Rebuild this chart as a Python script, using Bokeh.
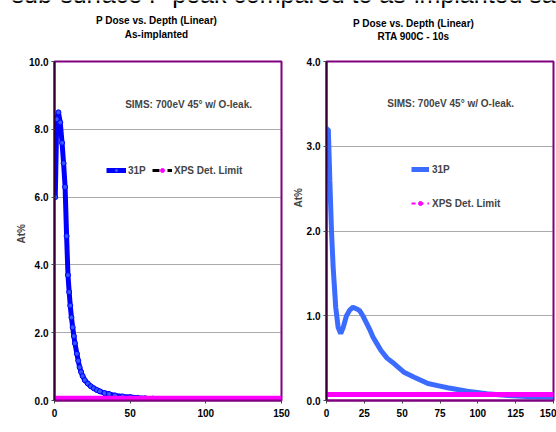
import numpy as np
from bokeh.plotting import figure
from bokeh.layouts import column, row
from bokeh.models import (Range1d, Legend, LegendItem, Label, ColumnDataSource,
                          NumeralTickFormatter, FixedTicker, Title)
from bokeh.core.properties import value
from bokeh.embed import file_html
from bokeh.resources import INLINE

FONT = "Liberation Sans"

# ---------------- data ----------------
depth_ai = [0.5, 1.5, 2.6, 3.8, 5.0, 6.0, 7.0, 8.0, 8.9, 9.7, 10.4, 11.2, 12.0, 12.8,
            13.5, 14.8, 15.7, 16.6, 17.6, 18.6, 20, 22, 24, 26, 28, 30, 33, 36, 40,
            45, 50, 55, 60, 65, 70, 75, 80, 90, 100, 110, 120, 130, 140, 150]
p31_ai = [6.0, 8.3, 8.5, 8.2, 7.6, 7.0, 6.3, 4.85, 3.7, 3.2, 2.8, 2.45, 2.16, 1.9,
          1.69, 1.38, 1.17, 0.98, 0.84, 0.72, 0.6, 0.5, 0.42, 0.36, 0.31, 0.27, 0.22,
          0.19, 0.15, 0.12, 0.10, 0.08, 0.065, 0.055, 0.045, 0.04, 0.035, 0.028,
          0.022, 0.018, 0.015, 0.012, 0.01, 0.01]

depth_rta = [0.5, 1.2, 2.2, 3.3, 4.4, 6.1, 7.7, 9.4, 11, 13.2, 15.5, 17.5, 20, 21.9,
             24, 26.3, 28.5, 30.7, 33, 36, 40, 45, 51.5, 58, 67, 75, 80, 93, 106,
             120, 135, 150]
p31_rta = [3.2, 3.2, 2.6, 2.0, 1.57, 1.1, 0.86, 0.79, 0.86, 1.0, 1.07, 1.1, 1.08,
           1.06, 1.0, 0.92, 0.84, 0.75, 0.68, 0.59, 0.5, 0.43, 0.33, 0.275, 0.2,
           0.17, 0.15, 0.11, 0.08, 0.06, 0.045, 0.04]

xps_depth = [0, 150]
xps_limit = [0.07, 0.07]

yticks_ai = [0, 2, 4, 6, 8, 10]
xticks_ai = [0, 50, 100, 150]
yticks_rta = [0, 1, 2, 3, 4]
xticks_rta = [0, 25, 50, 75, 100, 125, 150]

headline = "sub-surface P  peak compared to as-implanted sample"
titles_ai = ["P Dose vs. Depth (Linear)", "As-implanted"]
titles_rta = ["P Dose vs. Depth (Linear)", "RTA 900C - 10s"]
note = "SIMS:  700eV 45\u00b0 w/ O-leak."

BLUE = "#0000FF"
LBLUE = "#3B6CFF"
MAG = "#FF00FF"
PURPLE = "#800080"

# ---------------- header figure ----------------
top = figure(width=556, height=50, x_range=Range1d(0, 556), y_range=Range1d(50, 0),
             min_border=0, toolbar_location=None, output_backend="svg")
top.axis.visible = False
top.grid.visible = False
top.outline_line_color = None
top.text(x=[11], y=[-7], text=[headline], text_font=value(FONT), text_font_size="25px",
         text_baseline="middle", text_align="left", text_color="black")
for cx, ys, tt in [(156, (20, 34), titles_ai), (413, (23, 36), titles_rta)]:
    top.text(x=[cx, cx], y=list(ys), text=tt, text_font=value(FONT), text_font_size="10px",
             text_font_style="bold", text_align="center", text_baseline="middle",
             text_color="black")


def base_fig(w, left, right, ymax, yt, xt):
    p = figure(width=w, height=382, x_range=Range1d(0, 150), y_range=Range1d(0, ymax),
               min_border_left=left, min_border_right=right, min_border_top=11,
               min_border_bottom=32, toolbar_location=None, output_backend="svg")
    p.outline_line_color = PURPLE
    p.outline_line_width = 2
    p.xgrid.visible = False
    p.ygrid.grid_line_color = "#555555"
    p.ygrid.grid_line_dash = "1 1"
    p.ygrid.grid_line_width = 1
    p.yaxis.ticker = FixedTicker(ticks=yt)
    p.xaxis.ticker = FixedTicker(ticks=xt)
    p.yaxis.formatter = NumeralTickFormatter(format="0.0")
    for ax in (p.xaxis[0], p.yaxis[0]):
        ax.major_label_text_font = FONT
        ax.major_label_text_font_size = "10px"
        ax.major_label_text_font_style = "bold"
        ax.major_label_text_color = "black"
        ax.minor_tick_line_color = None
        ax.major_tick_in = 0
        ax.major_tick_out = 3
        ax.major_tick_line_color = "#444444"
        ax.major_label_standoff = 3
    p.yaxis.axis_line_color = "#330033"
    p.yaxis.axis_line_width = 2
    p.xaxis.axis_line_color = PURPLE
    p.xaxis.axis_line_width = 2
    p.xaxis.major_label_standoff = 5
    return p


def axis_labels(p, ylab_offset, xlab_x):
    p.add_layout(Title(text="At%", align="left", offset=ylab_offset, standoff=0,
                       text_font=FONT, text_font_size="10px", text_font_style="bold"),
                 "left")
    p.add_layout(Label(x=xlab_x, y=-28, x_units="screen", y_units="screen",
                       text="Depth (\u00c5)", text_align="center", text_baseline="top",
                       text_font=FONT, text_font_size="10px", text_font_style="bold"))


# ---------------- left: as-implanted ----------------
pl = base_fig(290, 54, 9, 10, yticks_ai, xticks_ai)
src_ai = ColumnDataSource(dict(x=depth_ai, y=p31_ai))
l_ai = pl.line("x", "y", source=src_ai, line_color=BLUE, line_width=5)
s_ai = pl.scatter("x", "y", source=src_ai, marker="circle", size=5, fill_color="#3355FF",
                  line_color=BLUE)
x_ai = pl.line(xps_depth, xps_limit, line_color=MAG, line_width=5)
dum_l = pl.line([np.nan, np.nan], [np.nan, np.nan], line_color="black", line_width=3,
                line_dash="7 8")
dum_s = pl.scatter([np.nan], [np.nan], marker="circle", size=5, fill_color=MAG,
                   line_color=MAG)
leg_l = Legend(items=[LegendItem(label="31P", renderers=[l_ai, s_ai]),
                      LegendItem(label="XPS Det. Limit", renderers=[dum_l, dum_s])],
               orientation="horizontal", location=(52, 224), padding=0, margin=0,
               spacing=4, label_standoff=2, glyph_width=20, glyph_height=10,
               border_line_color=None, background_fill_alpha=0,
               label_text_font=FONT, label_text_font_size="10px",
               label_text_font_style="bold", label_height=12)
pl.add_layout(leg_l, "center")
pl.add_layout(Label(x=89.5, y=8.73, text=note, text_align="center", text_baseline="middle",
                    text_font=FONT, text_font_size="10px", text_font_style="bold"))
axis_labels(pl, 157, 117)

# ---------------- right: RTA ----------------
pr = base_fig(266, 35, 3, 4, yticks_rta, xticks_rta)
src_rta = ColumnDataSource(dict(x=depth_rta, y=p31_rta))
l_rta = pr.line("x", "y", source=src_rta, line_color=LBLUE, line_width=5)
x_rta = pr.line(xps_depth, xps_limit, line_color=MAG, line_width=5)
dum_r = pr.line([np.nan, np.nan], [np.nan, np.nan], line_color=MAG, line_width=2,
                line_dash="4 4")
dum_rs = pr.scatter([np.nan], [np.nan], marker="circle", size=5, fill_color=MAG,
                    line_color=MAG)
leg_r = Legend(items=[LegendItem(label="31P", renderers=[l_rta]),
                      LegendItem(label="XPS Det. Limit", renderers=[dum_r, dum_rs])],
               orientation="vertical", location=(85, 191), padding=0, margin=0,
               spacing=22, label_standoff=3, glyph_width=18, glyph_height=10,
               border_line_color=None, background_fill_alpha=0,
               label_text_font=FONT, label_text_font_size="10px",
               label_text_font_style="bold", label_height=12)
pr.add_layout(leg_r, "center")
pr.add_layout(Label(x=83, y=3.5, text=note, text_align="center", text_baseline="middle",
                    text_font=FONT, text_font_size="10px", text_font_style="bold"))
axis_labels(pr, 193, 118)

layout = column(top, row(pl, pr, spacing=0), spacing=0)
open("out.html", "w").write(file_html(layout, INLINE))
